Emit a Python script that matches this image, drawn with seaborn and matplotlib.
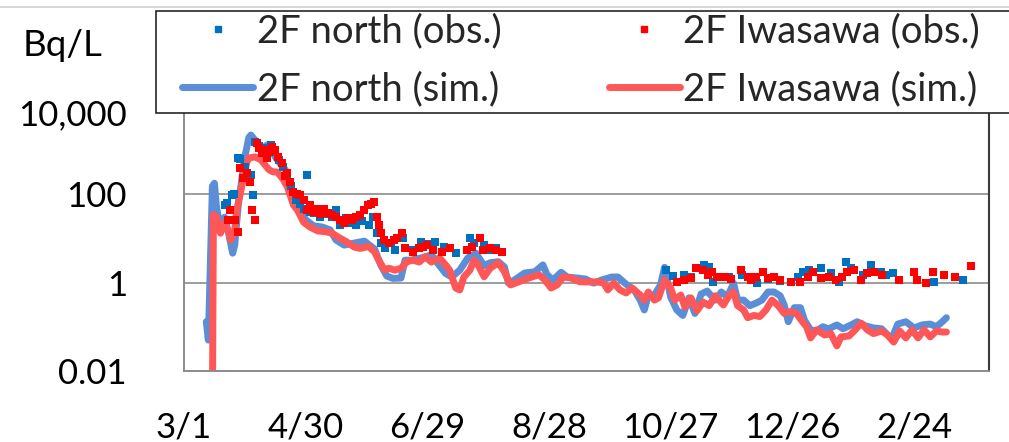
import matplotlib
matplotlib.use("Agg")
import matplotlib.pyplot as plt
import seaborn as sns
from matplotlib.lines import Line2D
from matplotlib.patches import Rectangle
from matplotlib.ticker import NullLocator
from matplotlib.transforms import ScaledTranslation

sns.set_theme(style="white")
plt.rcParams['font.family'] = ['Lato', 'DejaVu Sans']

# ---------------- data (days since 3/1, Bq/L) ----------------
sim_north_day = [11, 12, 14, 15, 16, 18, 20, 22, 24, 25, 27, 28, 30, 32, 33, 35, 37, 39, 41, 43,
                 45, 48, 50, 52, 54, 57, 60, 64, 68, 72, 75, 79, 84, 89, 94, 97, 100, 103, 107, 109,
                 112, 117, 122, 126, 129, 132, 136, 140, 144, 148, 151, 155, 158, 160, 163, 168, 173, 177, 179, 182,
                 186, 189, 194, 198, 202, 206, 211, 214, 218, 222, 225, 227, 229, 232, 235, 237, 240, 243, 246, 249,
                 252, 255, 258, 262, 265, 268, 271, 273, 276, 279, 282, 285, 288, 291, 294, 296, 298, 301, 304, 306,
                 309, 312, 315, 318, 322, 325, 329, 332, 336, 340, 344, 349, 352, 356, 360, 364, 368, 371, 374, 376]
sim_north_val = [0.13, 0.05, 150, 175, 52, 15, 30, 13, 4.6, 7, 73, 145, 690, 1900, 2150, 1660, 1100, 1100, 1280, 990,
                 690, 450, 350, 160, 73, 43, 26, 19, 18, 15.5, 9.1, 7, 7.8, 8.6, 5.7, 2.5, 1.4, 1.24, 1.26, 3.2,
                 3.2, 3.6, 4.2, 2.4, 1.6, 1.33, 1.9, 3.6, 4.6, 2.4, 2.8, 2.95, 2.25, 0.97, 1.14, 1.64, 1.75, 2.5, 1.5, 1.14,
                 1.7, 1.33, 1.26, 1.2, 0.97, 1.14, 1.33, 1.33, 0.92, 0.68, 0.40, 0.24, 0.52, 0.52, 0.88, 2.2, 0.47, 0.24, 0.18, 0.45,
                 0.2, 0.55, 0.64, 0.40, 0.61, 0.47, 0.97, 0.40, 0.40, 0.30, 0.34, 0.40, 0.61, 0.61, 0.5, 0.31, 0.13, 0.27, 0.27, 0.14,
                 0.085, 0.08, 0.1, 0.09, 0.11, 0.09, 0.11, 0.13, 0.105, 0.094, 0.09, 0.053, 0.115, 0.13, 0.094, 0.11, 0.115, 0.1, 0.13, 0.16]

sim_iwa_day = [14, 14.5, 16, 18, 20, 22, 23, 25, 26, 29, 31, 32, 35, 38, 40, 42, 44, 46, 49, 51,
               54, 56, 59, 62, 66, 70, 73, 77, 80, 84, 87, 91, 94, 96, 99, 101, 104, 107, 110, 113,
               116, 119, 122, 126, 129, 131, 134, 136, 138, 141, 143, 145, 148, 151, 155, 158, 161, 165, 170, 175,
               178, 181, 184, 187, 191, 195, 199, 204, 207, 209, 212, 215, 218, 221, 225, 227, 229, 232, 234, 237,
               240, 242, 245, 247, 250, 253, 256, 259, 262, 266, 269, 271, 273, 276, 278, 281, 284, 287, 290, 293,
               296, 299, 302, 305, 307, 309, 312, 316, 319, 322, 324, 328, 331, 334, 337, 340, 344, 347, 350, 353,
               356, 359, 362, 365, 368, 371, 374, 376]
sim_iwa_val = [0.001, 34, 30, 13, 22, 14, 9.1, 15.5, 43, 190, 530, 650, 690, 590, 450, 350, 315, 315, 210, 145,
               56, 43, 23, 18, 14.6, 14, 13, 10, 8.4, 6.3, 5.9, 6.5, 4.9, 3.2, 1.9, 2.1, 1.9, 2.1, 2.95, 3.2,
               2.9, 3.8, 2.9, 3.6, 2.5, 1.9, 0.75, 0.68, 1.33, 1.9, 3.2, 2.5, 1.35, 2.1, 2.8, 1.75, 0.88, 1.03, 1.26, 1.5,
               1.14, 0.75, 0.88, 1.33, 1.26, 1.04, 1.03, 1.03, 0.97, 0.68, 0.97, 0.68, 0.58, 0.75, 0.52, 0.40, 0.61, 0.4, 0.45, 1.14,
               0.75, 0.40, 0.52, 0.28, 0.45, 0.23, 0.36, 0.3, 0.5, 0.31, 0.52, 0.61, 0.3, 0.24, 0.16, 0.18, 0.17, 0.24, 0.40, 0.3,
               0.2, 0.22, 0.2, 0.13, 0.1, 0.056, 0.085, 0.065, 0.07, 0.037, 0.059, 0.062, 0.085, 0.12, 0.085, 0.07, 0.08, 0.065, 0.045, 0.08,
               0.056, 0.085, 0.056, 0.085, 0.059, 0.08, 0.076, 0.076]

obs_north_day = [20, 21, 23.5, 24.5, 26.5, 27.5, 30, 31, 33, 34, 35, 37, 39, 41, 43, 45, 47, 49, 51, 53,
                 55, 57, 59, 60.6, 62, 64, 67, 70, 73, 75, 77, 80, 83, 85, 88, 91, 93, 95, 97, 99,
                 102, 104, 108, 113, 117, 120, 124, 128, 134, 141, 143, 148, 151, 154, 157,
                 237.5, 241, 246.6, 250, 256.4, 259, 261, 266, 269, 275, 282.8, 288, 294, 302.6, 305.5,
                 308, 314, 319, 323, 326.4, 329, 335, 338.8, 343.5, 346, 349.5, 352.7, 370, 384]
obs_north_val = [56, 62, 95, 100, 640, 610, 400, 300, 270, 95, 1500, 1200, 900, 1100, 1300, 900, 600, 400, 250, 150,
                 73, 60, 45, 270, 40, 38, 30, 36, 30, 43, 20, 28, 22, 20, 25, 20, 30, 13, 8, 6,
                 7.7, 5.4, 10, 5.4, 8.4, 7.5, 8.4, 6.5, 4.6, 10, 8, 7, 5.5, 6, 5,
                 1.9, 1.4, 1.5, 1.3, 2.5, 2.2, 1.04, 1.3, 1.35, 1.5, 0.96, 1.2, 1.1, 1.35, 1.75,
                 1.9, 2.1, 1.6, 1.04, 2.95, 2.1, 1.5, 2.5, 1.75, 1.5, 1.6, 1.14, 1.04, 1.14]

obs_iwa_day = [21.9, 22.7, 25, 26.8, 27.7, 29.3, 31, 32.6, 33.4, 35, 35.9, 37, 38.4, 39.5, 40.8, 42, 43.3, 45, 46.5, 48.2,
               49.9, 51, 52.3, 54, 55.5, 57.3, 59, 60.6, 62, 64, 65.5, 67, 69, 71, 73, 75, 77, 79, 81, 83,
               85, 87, 89, 90.5, 92, 93.5, 95, 96, 97, 98.4, 101, 103.4, 105, 107.5, 109, 113, 116, 118, 120, 123,
               127, 131, 139.6, 142, 146, 147.5, 151, 154, 157,
               243.3, 246.6, 250, 252.3, 256, 258.5, 260.6, 263, 267, 270, 274.6, 278, 279.5, 282, 285.3, 287.8, 291, 294, 299.3, 304,
               307.5, 310, 314, 318, 321.5, 324.7, 327, 330.5, 333.8, 337, 340.4, 344, 352.7, 360, 361.7, 366, 369.3, 375, 380, 388]
obs_iwa_val = [26, 43, 26, 14, 390, 230, 300, 185, 43, 26, 1400, 1100, 840, 1000, 650, 900, 1170, 1000, 700, 500,
               250, 300, 190, 112, 100, 95, 73, 43, 55, 40, 45, 36, 45, 38, 34, 30, 26, 22, 28, 26,
               30, 34, 43, 56, 60, 66, 30, 20, 13, 9.1, 8, 9.1, 10, 13, 5.9, 5, 6, 6.5, 7, 5.4,
               5, 5.9, 5.4, 6.5, 10, 5.4, 5.9, 5.4, 5,
               1.04, 1.14, 1.24, 2.1, 1.9, 1.5, 1.75, 1.35, 1.35, 1.2, 1.9, 1.35, 1.14, 1.3, 1.75, 1.24, 1.35, 1.14, 1.04, 1.04,
               1.35, 1.75, 1.24, 1.3, 1.14, 1.35, 1.75, 1.9, 1.14, 1.6, 1.75, 1.5, 1.14, 1.75, 1.14, 0.96, 1.75, 1.5, 1.3, 2.3]

tick_days = [0, 60, 120, 180, 240, 300, 360]
tick_labels = ["3/1", "4/30", "6/29", "8/28", "10/27", "12/26", "2/24"]
ytick_vals = [0.01, 1, 100, 10000]
ytick_labels = ["0.01", "1", "100", "10,000"]
series_names = ["2F north (obs.)", "2F Iwasawa (obs.)", "2F north (sim.)", "2F Iwasawa (sim.)"]

# ---------------- style ----------------
C_SIM_N = "#5B8ED6"
C_SIM_I = "#FF5757"
C_OBS_N = "#0070C0"
C_OBS_I = "#FF0000"
GRID = "#8C8C8C"
FS = 25
FS_LEG = 27.5
W, H, DPI = 1009, 442, 100

fig = plt.figure(figsize=(W / DPI, H / DPI), dpi=DPI)
ax = fig.add_axes([184 / W, (H - 371) / H, (989 - 184) / W, (371 - 105.5) / H])
ax.set_yscale("log")

LW = 5.0
sns.lineplot(x=sim_north_day, y=sim_north_val, ax=ax, color=C_SIM_N, lw=LW, sort=False,
             estimator=None, solid_joinstyle="round", solid_capstyle="round", zorder=2)
sns.lineplot(x=sim_iwa_day, y=sim_iwa_val, ax=ax, color=C_SIM_I, lw=LW, sort=False,
             estimator=None, solid_joinstyle="round", solid_capstyle="round", zorder=2.1)
sns.scatterplot(x=obs_north_day, y=obs_north_val, ax=ax, color=C_OBS_N, marker="s", s=38,
                linewidth=0, zorder=3)
sns.scatterplot(x=obs_iwa_day, y=obs_iwa_val, ax=ax, color=C_OBS_I, marker="s", s=38,
                linewidth=0, zorder=3.1)

ax.set_xlim(0, 397)
ax.set_ylim(0.01, 10000)
ax.set_xticks(tick_days)
ax.set_xticklabels(tick_labels)
ax.set_yticks(ytick_vals)
ax.set_yticklabels(ytick_labels[:-1] + [""])
ax.yaxis.set_minor_locator(NullLocator())
ax.xaxis.set_minor_locator(NullLocator())
ax.set_xlabel("")
ax.set_ylabel("")

ax.yaxis.grid(True, color=GRID, lw=1.2)
ax.xaxis.grid(False)
ax.tick_params(axis="both", direction="out", length=8, width=1.2, color=GRID,
               labelsize=FS, labelcolor="black")
ax.tick_params(axis="y", pad=33)
ax.tick_params(axis="x", pad=21)
for s in ["left", "bottom"]:
    ax.spines[s].set_color(GRID)
    ax.spines[s].set_linewidth(1.4)
ax.spines["top"].set_visible(False)
ax.spines["right"].set_color("#3A3A3A")
ax.spines["right"].set_linewidth(1.5)

# top tick label, shifted down as in the reference
trans, va, ha = ax.get_yaxis_text1_transform(8 + 33)
ax.text(0, ytick_vals[-1], ytick_labels[-1], fontsize=FS, color="black", ha="right", va="center",
        transform=trans + ScaledTranslation(0, -0.10, fig.dpi_scale_trans), clip_on=False)

# chart frame top line
fig.add_artist(Line2D([0, 1], [1 - 6.5 / H, 1 - 6.5 / H], transform=fig.transFigure,
                      color="#D0D0D0", lw=1.2))

# legend box
fig.add_artist(Rectangle((156 / W, (H - 113) / H), (1020 - 156) / W, (113 - 11) / H,
                         transform=fig.transFigure, facecolor="white", edgecolor="#262626",
                         lw=1.2, zorder=5))
handles = [
    Line2D([], [], ls="", marker="s", color=C_OBS_N, markersize=4.8),
    Line2D([], [], color=C_SIM_N, lw=LW, solid_capstyle="round"),
    Line2D([], [], ls="", marker="s", color=C_OBS_I, markersize=4.8),
    Line2D([], [], color=C_SIM_I, lw=LW, solid_capstyle="round"),
]
labels = [series_names[0], series_names[2], series_names[1], series_names[3]]
leg = fig.legend(handles, labels, ncol=2, loc="upper left",
                 bbox_to_anchor=(182 / W, 1 - 13.5 / H), bbox_transform=fig.transFigure,
                 frameon=False, fontsize=FS_LEG, handlelength=1.86, handletextpad=0.1,
                 columnspacing=2.8, labelspacing=0.56, borderpad=0, borderaxespad=0)
leg.set_zorder(6)

fig.text(23 / W, 1 - 46 / H, "Bq/L", fontsize=26.5, ha="left", va="center", color="black")

fig.savefig("out.png", dpi=DPI)
